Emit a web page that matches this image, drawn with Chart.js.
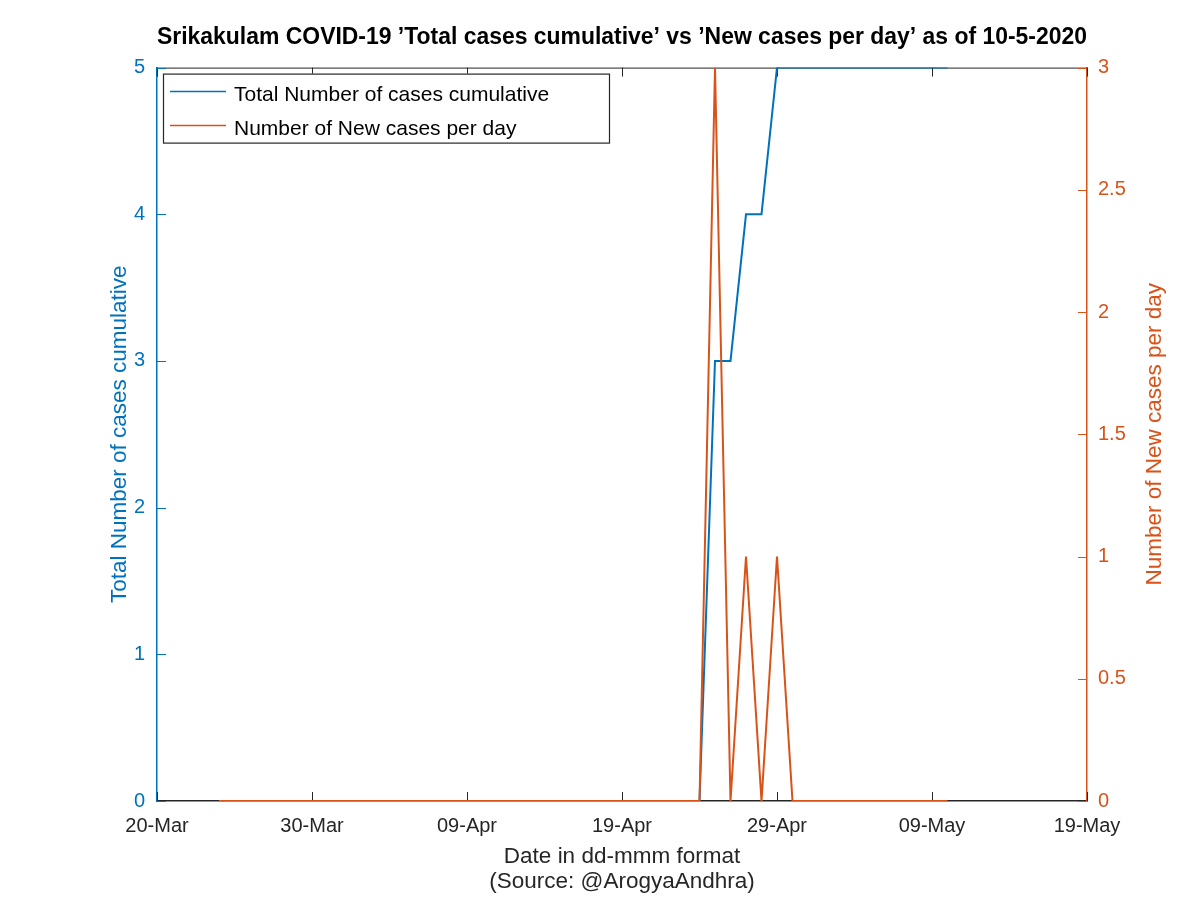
<!DOCTYPE html>
<html>
<head>
<meta charset="utf-8">
<script src="https://cdn.jsdelivr.net/npm/chart.js@4.4.0/dist/chart.umd.min.js"></script>
<style>
  html, body { margin: 0; padding: 0; background: #fff; }
  #wrap { width: 1200px; height: 898px; }
</style>
</head>
<body>
<div id="wrap"><canvas id="myChart" width="1200" height="898"></canvas></div>
<script>
// data (24-Mar-2020 .. 10-May-2020, one point per day)
const startDate = '2020-03-24';
const totalCases = [
  0, 0, 0, 0, 0, 0, 0, 0,                                   // 24-31 Mar
  0, 0, 0, 0, 0, 0, 0, 0, 0, 0, 0, 0, 0, 0, 0, 0, 0, 0, 0, 0, 0, 0, 0, // 1-23 Apr
  0, 3, 3, 4, 4, 5, 5,                                      // 24-30 Apr
  5, 5, 5, 5, 5, 5, 5, 5, 5, 5                              // 1-10 May
];
const newCases = [
  0, 0, 0, 0, 0, 0, 0, 0,
  0, 0, 0, 0, 0, 0, 0, 0, 0, 0, 0, 0, 0, 0, 0, 0, 0, 0, 0, 0, 0, 0, 0,
  0, 3, 0, 1, 0, 1, 0,
  0, 0, 0, 0, 0, 0, 0, 0, 0, 0
];
const xTickLabels = ['20-Mar', '30-Mar', '09-Apr', '19-Apr', '29-Apr', '09-May', '19-May'];
const axisStart = '2020-03-20';

const BLUE = '#0072BD';
const ORANGE = '#D95319';
const DARK = '#262626';
const FONT = "'Liberation Sans', Arial, Helvetica, sans-serif";

const dayMs = 24 * 3600 * 1000;
const start0 = new Date(axisStart + 'T00:00:00Z').getTime();
const first = (new Date(startDate + 'T00:00:00Z').getTime() - start0) / dayMs;

const toPoints = arr => arr.map((v, i) => ({ x: first + i, y: v }));

// draws the box, inward tick marks, right axis title and the legend inside the plot
const matlabBox = {
  id: 'matlabBox',
  beforeDatasetsDraw(chart) {
    const { ctx, chartArea: a, scales } = chart;
    ctx.save();
    ctx.lineWidth = 1;
    // top border
    ctx.strokeStyle = DARK;
    ctx.beginPath();
    ctx.moveTo(a.left, a.top + 0.5);
    ctx.lineTo(a.right, a.top + 0.5);
    ctx.stroke();
    // x ticks (bottom and top)
    scales.x.ticks.forEach(t => {
      const px = Math.round(scales.x.getPixelForValue(t.value)) + 0.5;
      ctx.beginPath();
      ctx.moveTo(px, a.bottom); ctx.lineTo(px, a.bottom - 9);
      ctx.moveTo(px, a.top); ctx.lineTo(px, a.top + 9);
      ctx.stroke();
    });
    // left ticks
    ctx.strokeStyle = BLUE;
    scales.y.ticks.forEach(t => {
      const py = Math.round(scales.y.getPixelForValue(t.value)) + 0.5;
      ctx.beginPath();
      ctx.moveTo(a.left, py); ctx.lineTo(a.left + 9, py);
      ctx.stroke();
    });
    // right ticks
    ctx.strokeStyle = ORANGE;
    scales.y1.ticks.forEach(t => {
      const py = Math.round(scales.y1.getPixelForValue(t.value)) + 0.5;
      ctx.beginPath();
      ctx.moveTo(a.right, py); ctx.lineTo(a.right - 9, py);
      ctx.stroke();
    });
    // right axis title, reading bottom to top
    ctx.translate(1155, (a.top + a.bottom) / 2);
    ctx.rotate(-Math.PI / 2);
    ctx.font = '22.5px ' + FONT;
    ctx.fillStyle = ORANGE;
    ctx.textAlign = 'center';
    ctx.textBaseline = 'middle';
    ctx.fillText('Number of New cases per day', 0, 0);
    ctx.restore();
  },
  afterDatasetsDraw(chart) {
    const { ctx, chartArea: a } = chart;
    const x0 = a.left + 6, y0 = a.top + 6, w = 446, h = 69;
    ctx.save();
    ctx.fillStyle = '#fff';
    ctx.fillRect(x0, y0, w, h);
    ctx.strokeStyle = DARK;
    ctx.lineWidth = 1.2;
    ctx.strokeRect(x0 + 0.5, y0 + 0.5, w, h);
    ctx.font = '21px ' + FONT;
    ctx.textBaseline = 'middle';
    chart.data.datasets.forEach((ds, i) => {
      const yy = y0 + 18 + i * 34;
      ctx.strokeStyle = ds.borderColor;
      ctx.lineWidth = 1.5;
      ctx.beginPath();
      ctx.moveTo(x0 + 7, yy); ctx.lineTo(x0 + 63, yy);
      ctx.stroke();
      ctx.fillStyle = '#000';
      ctx.fillText(ds.label, x0 + 71, yy + 4);
    });
    ctx.restore();
  }
};

new Chart(document.getElementById('myChart'), {
  type: 'line',
  data: {
    datasets: [
      {
        label: 'Total Number of cases cumulative',
        data: toPoints(totalCases),
        borderColor: BLUE,
        borderWidth: 2,
        pointRadius: 0,
        tension: 0,
        yAxisID: 'y',
        order: 1
      },
      {
        label: 'Number of New cases per day',
        data: toPoints(newCases),
        borderColor: ORANGE,
        borderWidth: 2,
        pointRadius: 0,
        tension: 0,
        yAxisID: 'y1',
        order: 0
      }
    ]
  },
  options: {
    responsive: false,
    animation: false,
    layout: { padding: { left: 0, right: 0, top: 0, bottom: 0 } },
    plugins: {
      legend: { display: false },
      tooltip: { enabled: false },
      title: {
        display: true,
        fullSize: false,
        text: 'Srikakulam COVID-19 \u2019Total cases cumulative\u2019 vs \u2019New cases per day\u2019 as of 10-5-2020',
        color: '#000',
        font: { family: FONT, size: 23, weight: 'bold', lineHeight: 1.2 },
        padding: { top: 24, bottom: 16 }
      }
    },
    scales: {
      x: {
        type: 'linear',
        min: 0,
        max: 60,
        grid: { display: false, drawTicks: false },
        border: { color: DARK, width: 1.5 },
        ticks: {
          stepSize: 10,
          padding: 13,
          color: DARK,
          maxRotation: 0,
          font: { family: FONT, size: 20 },
          callback: (v) => xTickLabels[Math.round(v / 10)]
        },
        title: {
          display: true,
          text: ['Date in dd-mmm format', '(Source: @ArogyaAndhra)'],
          color: DARK,
          font: { family: FONT, size: 22.5, lineHeight: 1.1 },
          padding: { top: 4, bottom: 4 }
        },
        afterFit: s => { s.height = 97; }
      },
      y: {
        type: 'linear',
        position: 'left',
        min: 0,
        max: 5,
        grid: { display: false, drawTicks: false },
        border: { color: BLUE, width: 1.5 },
        ticks: { stepSize: 1, padding: 12, color: BLUE, font: { family: FONT, size: 20 } },
        title: {
          display: true,
          text: 'Total Number of cases cumulative',
          color: BLUE,
          font: { family: FONT, size: 22.5, lineHeight: 1.2 },
          padding: { top: 106, bottom: 0 }
        },
        afterFit: s => { s.width = 157; }
      },
      y1: {
        type: 'linear',
        position: 'right',
        min: 0,
        max: 3,
        grid: { display: false, drawTicks: false },
        border: { color: ORANGE, width: 1.5 },
        ticks: {
          stepSize: 0.5,
          padding: 11,
          color: ORANGE,
          font: { family: FONT, size: 20 },
          callback: (v) => String(v)
        },
        afterFit: s => { s.width = 113; }
      }
    }
  },
  plugins: [matlabBox]
});
</script>
</body>
</html>
